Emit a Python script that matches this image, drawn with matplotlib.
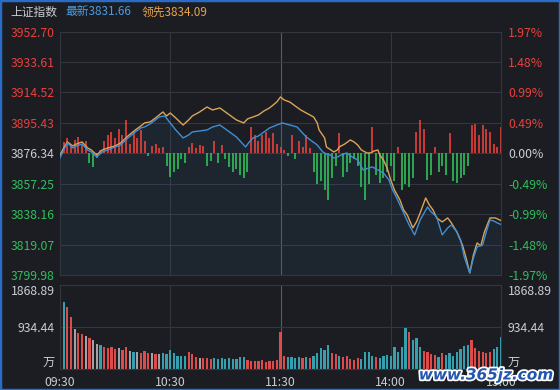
import matplotlib
matplotlib.use('Agg')
import matplotlib.pyplot as plt
import matplotlib.patheffects as pe
from matplotlib.patches import Rectangle
import numpy as np

plt.rcParams['font.family'] = ['Noto Sans CJK SC', 'DejaVu Sans']

# ---- data ----
base_price = 3876.34
price_levels = [3952.70, 3933.61, 3914.52, 3895.43, 3876.34, 3857.25, 3838.16, 3819.07, 3799.98]
price_labels = ['3952.70', '3933.61', '3914.52', '3895.43', '3876.34', '3857.25', '3838.16', '3819.07', '3799.98']
pct_labels = ['1.97%', '1.48%', '0.99%', '0.49%', '0.00%', '-0.49%', '-0.99%', '-1.48%', '-1.97%']
vol_levels = [0, 934.44, 1868.89]
vol_labels = ['万', '934.44', '1868.89']
time_ticks = [0, 60, 120, 180, 240]
time_labels = ['09:30', '10:30', '11:30', '14:00', '15:00']

# minutes since 09:30 (lunch break removed)
latest_min = [0, 2, 4, 7, 9, 12, 15, 17, 20, 23, 26, 30, 33, 37, 41, 44, 46, 49, 52, 54,
              57, 60, 63, 67, 70, 72, 76, 80, 83, 87, 90, 93, 96, 99, 101, 103, 105, 108, 111, 114,
              118, 121, 125, 129, 132, 134, 137, 140, 143, 145, 147, 149, 151, 153, 156, 159, 162, 165, 168, 170,
              173, 176, 179, 181, 183, 188, 190, 193, 196, 200, 202, 205, 208, 211, 213, 216, 218, 220, 223, 225,
              227, 230, 232, 234, 236, 238, 240]
latest_price = [3873.39, 3878.41, 3882.80, 3879.66, 3880.92, 3882.17, 3878.41, 3877.16, 3874.02, 3877.16,
                3878.41, 3880.29, 3881.54, 3885.93, 3889.70, 3892.20, 3892.83, 3894.71, 3897.22, 3899.10,
                3899.73, 3895.34, 3890.95, 3885.93, 3887.81, 3889.70, 3890.32, 3890.95, 3892.83, 3894.08,
                3891.58, 3889.07, 3886.56, 3882.80, 3880.29, 3883.43, 3885.93, 3887.19, 3889.70, 3892.20,
                3894.08, 3895.34, 3894.08, 3892.83, 3889.07, 3886.56, 3884.05, 3881.54, 3877.16, 3875.90,
                3875.27, 3873.39, 3874.02, 3875.27, 3876.53, 3874.02, 3872.14, 3865.87, 3867.12, 3867.75,
                3865.87, 3863.99, 3859.60, 3853.33, 3848.94, 3836.40, 3831.38, 3825.11, 3834.52, 3842.67,
                3839.54, 3836.40, 3825.11, 3829.50, 3831.38, 3827.00, 3821.98, 3811.32, 3801.29, 3810.69,
                3817.59, 3818.84, 3827.00, 3834.52, 3833.89, 3832.64, 3831.66]

lead_min = [0, 2, 4, 7, 9, 12, 15, 17, 20, 23, 26, 30, 33, 37, 41, 44, 46, 49, 52, 54,
            56, 58, 60, 63, 67, 70, 72, 76, 80, 83, 87, 90, 93, 96, 100, 102, 105, 108, 111, 114,
            118, 120, 122, 125, 128, 131, 134, 138, 140, 141, 144, 145, 149, 151, 152, 155, 158, 160, 162, 164,
            167, 169, 171, 173, 174, 176, 178, 180, 182, 185, 187, 189, 192, 194, 196, 199, 201, 203, 205, 208,
            211, 213, 216, 219, 221, 223, 225, 227, 229, 231, 234, 237, 240]
lead_price = [3875.27, 3879.66, 3883.43, 3880.92, 3882.17, 3883.43, 3879.66, 3878.41, 3875.27, 3878.41,
              3879.66, 3880.92, 3882.80, 3887.19, 3890.95, 3893.46, 3895.34, 3895.97, 3898.47, 3900.35,
              3902.24, 3899.73, 3901.61, 3898.47, 3894.08, 3897.22, 3899.73, 3902.24, 3905.37, 3903.49,
              3904.74, 3902.24, 3899.73, 3897.22, 3895.34, 3897.85, 3899.10, 3900.35, 3902.86, 3904.74,
              3908.51, 3911.64, 3909.76, 3908.51, 3906.00, 3903.49, 3901.61, 3899.10, 3895.34, 3890.95,
              3885.93, 3880.29, 3877.16, 3878.41, 3880.29, 3882.17, 3884.68, 3883.43, 3881.54, 3878.41,
              3876.53, 3876.53, 3877.78, 3878.41, 3875.27, 3872.14, 3867.12, 3859.60, 3853.33, 3847.06,
              3840.79, 3837.65, 3829.50, 3833.27, 3838.91, 3848.31, 3843.92, 3840.79, 3835.77, 3833.27,
              3835.77, 3832.64, 3827.00, 3818.84, 3810.69, 3801.29, 3812.57, 3820.10, 3818.22, 3827.00,
              3835.77, 3835.77, 3834.09]

# red/green breadth bars, one per 2 minutes, in percent
breadth_pct = [0, 0.18, 0.25, 0.12, 0.22, 0.26, 0.15, 0.2, -0.15, -0.22,
               -0.08, 0.05, 0.2, 0.3, 0.35, 0.25, 0.4, 0.3, 0.53, 0.15,
               0.35, 0.25, 0.37, 0.2, -0.05, 0.12, 0.15, 0.08, 0.1, -0.2,
               -0.38, -0.3, -0.25, -0.1, -0.16, 0.1, 0.16, 0.08, 0.14, 0.12,
               -0.2, -0.12, 0.2, -0.15, 0.14, -0.1, -0.22, -0.3, -0.25, -0.35,
               -0.4, -0.3, 0.42, 0.3, 0.2, 0.3, 0.35, 0.25, 0.32, 0.15,
               0.1, 0.05, -0.05, 0.29, -0.1, 0.2, 0.1, 0.29, 0.08, -0.3,
               -0.5, -0.45, -0.6, -0.75, -0.4, -0.2, 0.32, -0.38, -0.3, -0.15,
               -0.1, -0.2, -0.55, -0.75, -0.5, 0.42, -0.35, -0.48, -0.4, -0.3,
               -0.2, -0.45, 0.1, -0.6, -0.5, -0.55, -0.4, 0.35, 0.53, 0.4,
               -0.43, -0.35, 0.1, -0.3, -0.2, -0.35, 0.33, -0.45, -0.48, -0.4,
               -0.35, -0.2, 0.45, 0.48, 0.3, 0.45, 0.4, 0.35, 0.15, 0.1, 0.42]

# volume (万), one bar per 2 minutes; colour code r=red, t=teal, g=grey
volume = [1869, 1500, 1380, 1150, 900, 800, 780, 740, 700, 640,
          560, 530, 480, 470, 500, 450, 470, 430, 500, 400,
          380, 380, 360, 400, 350, 360, 340, 330, 350, 340,
          420, 350, 300, 290, 300, 380, 330, 260, 250, 240,
          250, 230, 240, 230, 240, 230, 240, 220, 230, 260,
          270, 190, 170, 180, 170, 190, 160, 180, 170, 200,
          820, 280, 260, 270, 250, 260, 240, 270, 250, 300,
          350, 470, 420, 530, 360, 330, 300, 270, 300, 230,
          210, 240, 230, 380, 370, 300, 270, 250, 300, 310,
          300, 490, 380, 490, 910, 820, 650, 690, 500, 400,
          370, 340, 310, 270, 350, 320, 360, 300, 380, 450,
          520, 530, 640, 460, 400, 370, 360, 370, 450, 490, 710]
vol_color = ('ttrrgrrgrg' 'gtrrrrgrrg' 'tgrrrgrgtt' 'tttttrrrgr'
             'rrtttttttt' 'trrrrrrrrr' 'rrttttrtrt' 'ttttrrtrrr'
             'rrttttrttt' 'tttttrtttr' 'rrrtrttttt' 'ttrrrrrrttt')

# ---- style ----
bg = '#1b1d23'
gridc = '#33363e'
red = '#e8413c'
green = '#2fbf5a'
blue = '#3f8fd6'
orange = '#dba458'
txt = '#c9ccd2'
cmap = {'r': '#dd4b4b', 't': '#35a0b0', 'g': '#a3a0a8'}

fig = plt.figure(figsize=(5.6, 3.9), dpi=100, facecolor=bg)
ax = fig.add_axes([60/560, 1-275/390, 441/560, 243.5/390], facecolor=bg)
axv = fig.add_axes([60/560, 1-369/390, 441/560, 84/390], facecolor=bg)

for a in (ax, axv):
    a.set_xlim(0, 240)
    for s in a.spines.values():
        s.set_color(gridc)
        s.set_linewidth(0.8)
    for t in time_ticks[1:-1]:
        a.axvline(t, color='#555a64' if t == 120 else gridc, lw=0.8, zorder=0)

# price panel
ax.set_ylim(price_levels[-1], price_levels[0])
for lv in price_levels:
    ax.axhline(lv, color=gridc, lw=0.8, zorder=0)

slots = np.arange(0, 241, 2)
bp = np.array(breadth_pct)
tops = base_price * (1 + bp / 100)
ax.vlines(slots, base_price, tops, colors=[red if v > 0 else green for v in bp], lw=1.2, zorder=2)

ax.fill_between(latest_min, latest_price, price_levels[-1], color=blue, alpha=0.07, lw=0, zorder=1)
ax.plot(lead_min, lead_price, color=orange, lw=1.0, zorder=3)
ax.plot(latest_min, latest_price, color=blue, lw=1.0, zorder=4)

lab_cols = [red] * 4 + [txt] + [green] * 4
ax.set_yticks(price_levels)
ax.set_yticklabels(price_labels, fontsize=8.8)
ax.set_xticks([])
ax.tick_params(axis='y', length=0, pad=4)
for lbl, c in zip(ax.get_yticklabels(), lab_cols):
    lbl.set_color(c)

axr = ax.twinx()
axr.set_ylim(ax.get_ylim())
axr.set_yticks(price_levels)
axr.set_yticklabels(pct_labels, fontsize=8.8)
axr.tick_params(axis='y', length=0, pad=5)
for s in axr.spines.values():
    s.set_visible(False)
for lbl, c in zip(axr.get_yticklabels(), lab_cols):
    lbl.set_color(c)

# volume panel
axv.set_ylim(0, vol_levels[-1])
axv.axhline(vol_levels[1], color=gridc, lw=0.8, zorder=0)
axv.bar(slots, volume, width=1.2, color=[cmap[c] for c in vol_color], zorder=2)
axv.set_yticks(vol_levels)
axv.set_yticklabels(vol_labels, fontsize=8.8, color=txt)
axv.tick_params(axis='y', length=0, pad=4)
axv.set_xticks(time_ticks)
axv.set_xticklabels(time_labels, fontsize=8.8, color=txt)
axv.tick_params(axis='x', length=0, pad=5)
axvr = axv.twinx()
axvr.set_ylim(axv.get_ylim())
axvr.set_yticks(vol_levels)
axvr.set_yticklabels(vol_labels, fontsize=8.8, color=txt)
axvr.tick_params(axis='y', length=0, pad=5)
for s in axvr.spines.values():
    s.set_visible(False)
for a in (axv, axvr):
    labs = a.get_yticklabels()
    labs[0].set_va('bottom')
    labs[-1].set_va('top')

# header
fig.text(10/560, 1-12/390, '上证指数', color=txt, fontsize=8.5, va='center')
fig.text(65/560, 1-12/390, '最新3831.66', color='#4a9be0', fontsize=8.5, va='center')
fig.text(142/560, 1-12/390, '领先3834.09', color='#e8a448', fontsize=8.5, va='center')

# frame and watermark
fig.patches.append(Rectangle((0, 0), 1, 1, transform=fig.transFigure, fill=False,
                             edgecolor='#2a6cc4', lw=2.5))
fig.text(553/560, 1-375/390, 'www.365jz.com', ha='right', va='center', fontsize=11,
         fontweight='bold', style='italic', color='#2456b0', family='DejaVu Sans',
         path_effects=[pe.withStroke(linewidth=2.5, foreground='white')])

fig.savefig('out.png', dpi=100, facecolor=bg)
